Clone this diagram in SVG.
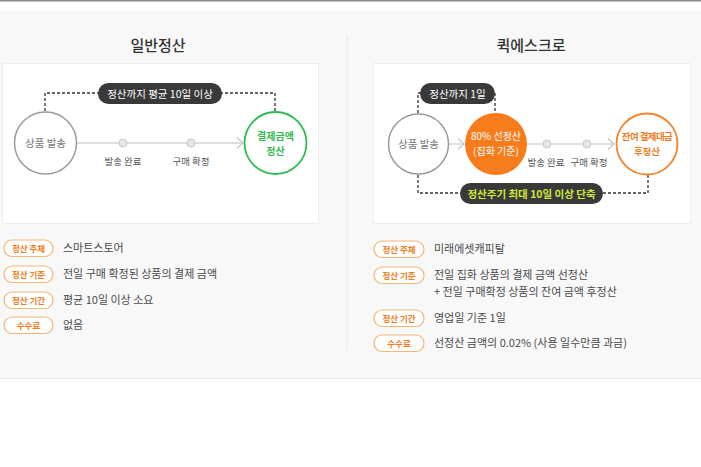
<svg xmlns="http://www.w3.org/2000/svg" width="701" height="467" viewBox="0 0 701 467">
<defs>
<style>
text{font-family:"Noto Sans CJK KR","Noto Sans",sans-serif;}
.title{font-size:15px;fill:#333;font-weight:500;text-anchor:middle;}
.box{fill:#fff;stroke:#eeeeee;stroke-width:1;}
.ncirc{fill:#fff;stroke:#9a9a9a;stroke-width:1.5;}
.ntxt{font-size:10.5px;fill:#777;text-anchor:middle;}
.dot{fill:#e6e6e6;stroke:#c8c8c8;stroke-width:1;}
.flow{stroke:#d4d4d4;stroke-width:1.5;fill:none;}
.chev{stroke:#c8c8c8;stroke-width:1.2;fill:none;}
.sub{font-size:9.5px;fill:#555;text-anchor:middle;}
.dash{stroke:#333;stroke-width:1.3;stroke-dasharray:3 2;fill:none;}
.pill{fill:#393939;}
.ptxt{font-size:10.5px;fill:#fff;text-anchor:middle;}
.badge{fill:#fff;stroke:#f3b77a;stroke-width:1.2;}
.btxt{font-size:8.5px;fill:#f07c22;text-anchor:middle;font-weight:700;}
.ltxt{font-size:11px;fill:#4a4a4a;}
</style>
</defs>
<rect x="0" y="0" width="701" height="467" fill="#fff"/>
<rect x="0" y="0" width="701" height="1.5" fill="#8a8a8a"/>
<rect x="0" y="10" width="701" height="368" fill="#f8f8f8"/>
<rect x="0" y="378" width="701" height="1" fill="#e6e6e6"/>
<rect x="346.5" y="36" width="1" height="314" fill="#e8e8e8"/>

<text class="title" x="158" y="51">일반정산</text>
<text class="title" x="531" y="51">퀵에스크로</text>

<rect class="box" x="2.5" y="63.5" width="316" height="160"/>
<rect class="box" x="373.5" y="63.5" width="317" height="160"/>

<g id="connectors">
<path class="dash" d="M45,111 V93 H100"/>
<path class="dash" d="M220,93 H275 V111"/>
<path class="flow" d="M77,143 H242"/>
<path class="chev" d="M237,137.5 L243,143 L237,148.5"/>
<path class="dash" d="M418,113 V93 H425"/>
<path class="dash" d="M490,93 H495 V113"/>
<path class="dash" d="M418,175 V193 H465"/>
<path class="dash" d="M598,193 H648 V175"/>
<path class="flow" d="M449,144 H463"/>
<path class="chev" d="M458,138.5 L464,144 L458,149.5"/>
<path class="flow" d="M527,144 H613"/>
<path class="chev" d="M608,138.5 L614,144 L608,149.5"/>
</g>

<g id="left-pill">
<rect class="pill" x="98" y="83" width="124" height="21" rx="10.5"/>
<text class="ptxt" x="160" y="97.5">정산까지 평균 10일 이상</text>
</g>
<g id="left-ship">
<circle class="ncirc" cx="45.5" cy="143" r="31"/>
<text class="ntxt" x="45.5" y="146.5">상품 발송</text>
</g>
<g id="left-done">
<circle class="dot" cx="123" cy="143" r="4"/>
<text class="sub" x="123" y="165">발송 완료</text>
</g>
<g id="left-confirm">
<circle class="dot" cx="191" cy="143" r="4"/>
<text class="sub" x="191" y="165">구매 확정</text>
</g>
<g id="left-settle">
<circle cx="275.5" cy="143" r="31" fill="#fff" stroke="#2fbb4f" stroke-width="1.8"/>
<text x="275.5" y="140" font-size="10" font-weight="700" fill="#2fbb4f" text-anchor="middle">결제금액</text>
<text x="275.5" y="155" font-size="10" font-weight="700" fill="#2fbb4f" text-anchor="middle">정산</text>
</g>

<g id="right-pill">
<rect class="pill" x="420" y="83" width="75" height="21" rx="10.5"/>
<text class="ptxt" x="457.5" y="97.5">정산까지 1일</text>
</g>
<g id="right-ship">
<circle class="ncirc" cx="418.5" cy="144" r="30"/>
<text class="ntxt" x="418.5" y="147.5">상품 발송</text>
</g>
<g id="right-pre">
<circle cx="496" cy="144" r="31" fill="#f87c1c"/>
<text x="496" y="140" font-size="10" fill="#fff" text-anchor="middle">80% 선정산</text>
<text x="496" y="155" font-size="10" fill="#fff" text-anchor="middle">(집화 기준)</text>
</g>
<g id="right-done">
<circle class="dot" cx="547" cy="144" r="4"/>
<text class="sub" x="546" y="166">발송 완료</text>
</g>
<g id="right-confirm">
<circle class="dot" cx="587" cy="144" r="4"/>
<text class="sub" x="589" y="166">구매 확정</text>
</g>
<g id="right-post">
<circle cx="647" cy="144" r="30.5" fill="#fff" stroke="#f5832a" stroke-width="1.8"/>
<text x="647" y="140" font-size="9.5" font-weight="700" fill="#f07c22" text-anchor="middle" letter-spacing="-0.6">잔여 결제대금</text>
<text x="647" y="155" font-size="9.5" font-weight="700" fill="#f07c22" text-anchor="middle">후정산</text>
</g>
<g id="right-bottom-pill">
<rect class="pill" x="460" y="183" width="143" height="21" rx="10.5"/>
<text x="531.5" y="197.5" font-size="10.5" font-weight="700" fill="#d2e83a" text-anchor="middle">정산주기 최대 10일 이상 단축</text>
</g>

<g id="left-list">
<rect class="badge" x="4" y="240" width="49" height="16.5" rx="8.25"/>
<text class="btxt" x="28.5" y="251.5">정산 주체</text>
<text class="ltxt" x="63" y="252">스마트스토어</text>
<rect class="badge" x="4" y="266" width="49" height="16.5" rx="8.25"/>
<text class="btxt" x="28.5" y="277.5">정산 기준</text>
<text class="ltxt" x="63" y="278">전일 구매 확정된 상품의 결제 금액</text>
<rect class="badge" x="4" y="292" width="49" height="16.5" rx="8.25"/>
<text class="btxt" x="28.5" y="303.5">정산 기간</text>
<text class="ltxt" x="63" y="304">평균 10일 이상 소요</text>
<rect class="badge" x="4" y="317" width="49" height="16.5" rx="8.25"/>
<text class="btxt" x="28.5" y="328.5">수수료</text>
<text class="ltxt" x="63" y="329">없음</text>
</g>

<g id="right-list">
<rect class="badge" x="374" y="241" width="50" height="16.5" rx="8.25"/>
<text class="btxt" x="399" y="252.5">정산 주체</text>
<text class="ltxt" x="434" y="253">미래에셋캐피탈</text>
<rect class="badge" x="374" y="267" width="50" height="16.5" rx="8.25"/>
<text class="btxt" x="399" y="278.5">정산 기준</text>
<text class="ltxt" x="434" y="279">전일 집화 상품의 결제 금액 선정산</text>
<text class="ltxt" x="434" y="296">+ 전일 구매확정 상품의 잔여 금액 후정산</text>
<rect class="badge" x="374" y="310" width="50" height="16.5" rx="8.25"/>
<text class="btxt" x="399" y="321.5">정산 기간</text>
<text class="ltxt" x="434" y="322">영업일 기준 1일</text>
<rect class="badge" x="374" y="335" width="50" height="16.5" rx="8.25"/>
<text class="btxt" x="399" y="346.5">수수료</text>
<text class="ltxt" x="434" y="347">선정산 금액의 0.02% (사용 일수만큼 과금)</text>
</g>
</svg>
